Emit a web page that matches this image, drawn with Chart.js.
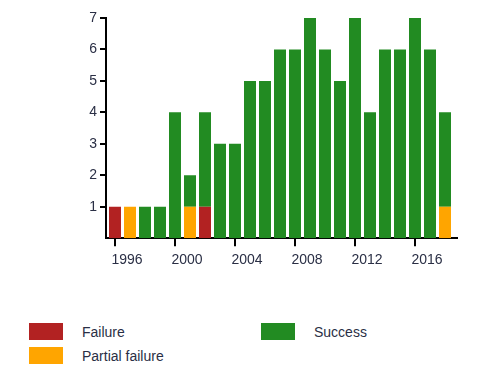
<!DOCTYPE html>
<html>
<head>
<meta charset="utf-8">
<script src="https://cdn.jsdelivr.net/npm/chart.js@4/dist/chart.umd.min.js"></script>
<style>
  body { margin: 0; background: #fff; }
  #wrap { position: relative; width: 478px; height: 379px; }
  #chart { position: absolute; left: 0; top: 0; }
  .leg { position: absolute; font: 14px "Liberation Sans", Arial, sans-serif; color: #2a2f45; line-height: 17px; }
  .leg span.box { position: absolute; left: 0; top: 0; width: 34px; height: 17px; }
  .leg span.txt { position: absolute; left: 53px; top: 1px; white-space: nowrap; }
</style>
</head>
<body>
<div id="wrap">
  <canvas id="chart" width="478" height="290"></canvas>
  <div id="legend"></div>
</div>
<script>
var years = [1996, 1997, 1998, 1999, 2000, 2001, 2002, 2003, 2004, 2005, 2006, 2007,
             2008, 2009, 2010, 2011, 2012, 2013, 2014, 2015, 2016, 2017, 2018];
var failure = [1, 0, 0, 0, 0, 0, 1, 0, 0, 0, 0, 0, 0, 0, 0, 0, 0, 0, 0, 0, 0, 0, 0];
var partialFailure = [0, 1, 0, 0, 0, 1, 0, 0, 0, 0, 0, 0, 0, 0, 0, 0, 0, 0, 0, 0, 0, 0, 1];
var success = [0, 0, 1, 1, 4, 1, 3, 3, 3, 5, 5, 6, 6, 7, 6, 5, 7, 4, 6, 6, 7, 6, 3];
var xTicks = [1996, 2000, 2004, 2008, 2012, 2016];
var yTicks = [1, 2, 3, 4, 5, 6, 7];

function points(vals) {
    return years.map(function(y, i) { return {x: y, y: vals[i]}; });
}

var textColor = '#2a2f45';
var font = {family: '"Liberation Sans", Arial, sans-serif', size: 14};

var chart = new Chart(document.getElementById('chart'), {
    type: 'bar',
    data: {
        datasets: [
            {label: 'Failure', data: points(failure), backgroundColor: '#b22222'},
            {label: 'Partial failure', data: points(partialFailure), backgroundColor: '#ffa500'},
            {label: 'Success', data: points(success), backgroundColor: '#228b22'}
        ]
    },
    options: {
        responsive: false,
        animation: false,
        layout: {padding: {left: 66, right: 21, top: 18, bottom: 15}},
        datasets: {bar: {categoryPercentage: 1, barPercentage: 0.8}},
        plugins: {legend: {display: false}, tooltip: {enabled: false}},
        scales: {
            x: {
                type: 'linear',
                stacked: true,
                offset: false,
                min: 1995.4,
                max: 2018.8,
                border: {color: '#000', width: 2},
                grid: {offset: false, drawOnChartArea: false, tickLength: 8, tickColor: '#000', lineWidth: 2},
                afterBuildTicks: function(s) { s.ticks = xTicks.map(function(v) { return {value: v}; }); },
                ticks: {
                    autoSkip: false,
                    padding: 6,
                    labelOffset: 12,
                    color: textColor,
                    font: font,
                    maxRotation: 0,
                    callback: function(v) { return String(v); }
                }
            },
            y: {
                stacked: true,
                min: 0,
                max: 7,
                afterFit: function(s) { s.width = 40; },
                border: {color: '#000', width: 2},
                grid: {drawOnChartArea: false, tickLength: 6, tickColor: '#000', lineWidth: 2},
                afterBuildTicks: function(s) { s.ticks = yTicks.map(function(v) { return {value: v}; }); },
                ticks: {padding: 3, color: textColor, font: font}
            }
        }
    }
});

// legend laid out in two columns like the reference
var legendPos = [[29, 323], [29, 347], [261, 323]];
var legend = document.getElementById('legend');
chart.data.datasets.forEach(function(ds, i) {
    var d = document.createElement('div');
    d.className = 'leg';
    d.style.left = legendPos[i][0] + 'px';
    d.style.top = legendPos[i][1] + 'px';
    d.innerHTML = '<span class="box" style="background:' + ds.backgroundColor + '"></span>' +
                  '<span class="txt">' + ds.label + '</span>';
    legend.appendChild(d);
});
</script>
</body>
</html>
